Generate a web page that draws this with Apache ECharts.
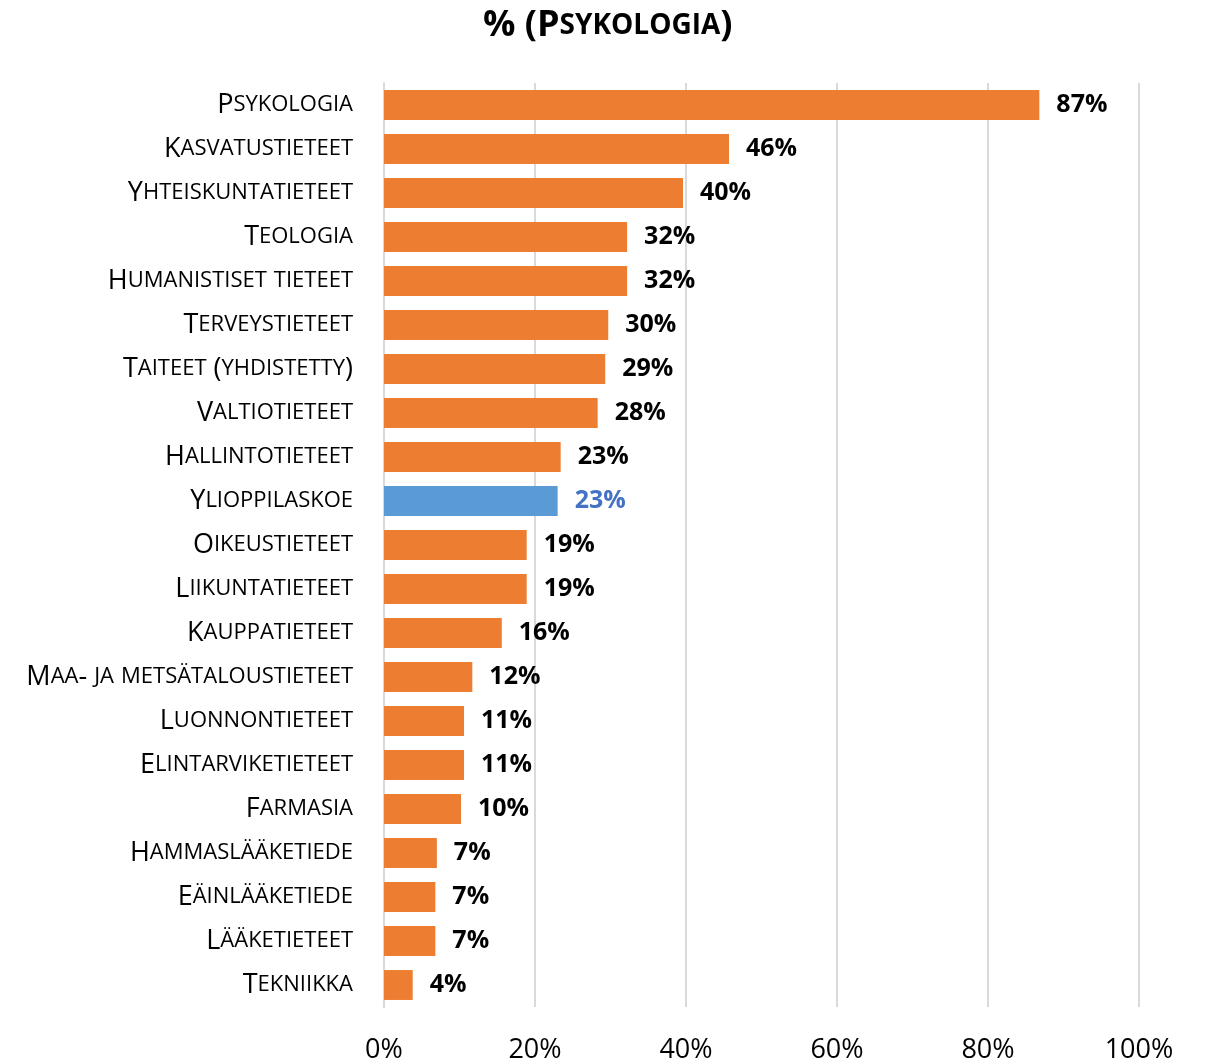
<!DOCTYPE html>
<html>
<head>
<meta charset="utf-8">
<script src="https://cdn.jsdelivr.net/npm/echarts@6/dist/echarts.min.js"></script>
<style>
html,body{margin:0;padding:0;background:#fff;}
#chart{width:1223px;height:1064px;}
</style>
</head>
<body>
<div id="chart"></div>
<script>
const titleText = '% (Psykologia)';
const categories = ['Psykologia','Kasvatustieteet','Yhteiskuntatieteet','Teologia','Humanistiset tieteet','Terveystieteet','Taiteet (yhdistetty)','Valtiotieteet','Hallintotieteet','Ylioppilaskoe','Oikeustieteet','Liikuntatieteet','Kauppatieteet','Maa- ja metsätaloustieteet','Luonnontieteet','Elintarviketieteet','Farmasia','Hammaslääketiede','Eäinlääketiede','Lääketieteet','Tekniikka'];
const values = [86.8,45.7,39.6,32.2,32.2,29.7,29.3,28.3,23.4,23.0,18.9,18.9,15.6,11.7,10.6,10.6,10.2,7.0,6.8,6.8,3.8];
const highlightCategory = 'Ylioppilaskoe';
const xTicks = [0,20,40,60,80,100];

const FONT = '"Open Sans", Lato, sans-serif';
const ORANGE = '#ED7D31';
const BLUE = '#5B9BD5';
const BLUE_TEXT = '#4472C4';

function smallCaps(text){
  let out = '';
  let i = 0;
  while(i < text.length){
    const ch = text[i];
    const isLower = ch !== ch.toUpperCase();
    let j = i;
    while(j < text.length && ((text[j] !== text[j].toUpperCase()) === isLower)) j++;
    const seg = text.slice(i,j);
    out += isLower ? '{s|' + seg.toUpperCase() + '}' : '{c|' + seg + '}';
    i = j;
  }
  return out;
}

const chart = echarts.init(document.getElementById('chart'), null, {renderer:'canvas'});
const data = values.map((v,i)=>{
  const hl = categories[i] === highlightCategory;
  return {
    value: v,
    itemStyle: {color: hl ? BLUE : ORANGE},
    label: {color: hl ? BLUE_TEXT : '#000'}
  };
});

chart.setOption({
  animation:false,
  backgroundColor:'#fff',
  title:{
    text: smallCaps(titleText),
    left: 478,
    top: 3,
    textStyle:{
      fontFamily: FONT,
      rich:{
        c:{fontSize:36,fontWeight:'bold',color:'#000',fontFamily:FONT},
        s:{fontSize:28,fontWeight:'bold',color:'#000',fontFamily:FONT}
      }
    }
  },
  grid:{left:384,right:84,top:83,bottom:45,containLabel:false},
  xAxis:{
    type:'value',min:xTicks[0],max:xTicks[xTicks.length-1],interval:20,
    axisLine:{show:false},axisTick:{show:false},
    splitLine:{show:true,lineStyle:{color:'#d9d9d9',width:2}},
    axisLabel:{formatter:'{value}%',fontFamily:FONT,fontSize:27,color:'#000',margin:30}
  },
  yAxis:{
    type:'category',data:categories,inverse:true,
    axisLine:{show:true,lineStyle:{color:'#d9d9d9',width:2}},
    axisTick:{show:false},
    axisLabel:{
      margin:31,
      formatter:(v)=>smallCaps(v),
      rich:{
        c:{fontSize:27,color:'#000',fontFamily:FONT},
        s:{fontSize:22,color:'#000',fontFamily:FONT}
      }
    }
  },
  series:[{
    type:'bar',
    data:data,
    barCategoryGap:'32%',
    label:{
      show:true,position:'right',distance:17,
      formatter:(p)=>Math.round(p.value)+'%',
      fontFamily:FONT,fontSize:25,fontWeight:'bold'
    }
  }]
});
</script>
</body>
</html>
